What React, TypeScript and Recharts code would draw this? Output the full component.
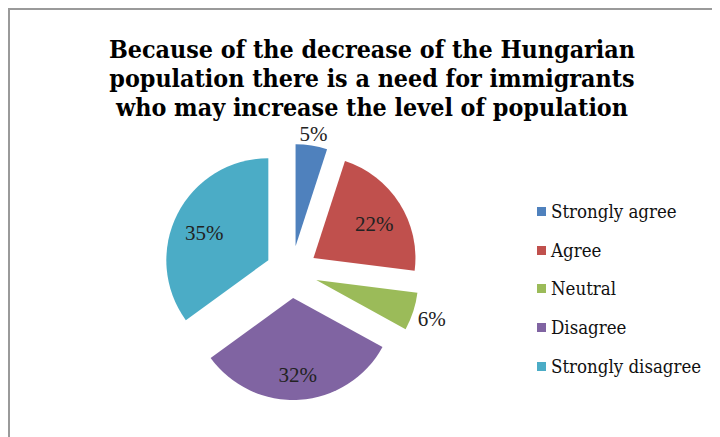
import { PieChart, Pie, Cell, Legend, Sector } from "recharts";

const categories = ["Strongly agree", "Agree", "Neutral", "Disagree", "Strongly disagree"];
const shares = [5, 22, 6, 32, 35];
const colors = ["#4F81BD", "#C0504D", "#9BBB59", "#8064A2", "#4BACC6"];

const titleLines = [
    "Because of the decrease of the Hungarian",
    "population there is a need for immigrants",
    "who may increase the level of population",
];

const data = categories.map((name, i) => ({ name, value: shares[i] }));

const RAD = Math.PI / 180;
const EXPLODE = 26;
const RADIUS = 102;
const SERIF = "'Liberation Serif', 'Times New Roman', serif";
const COND = "'DejaVu Serif Condensed', 'DejaVu Serif', serif";

// pulls each slice out along its own mid angle
const ExplodedSlice = (props: any) => {
    const { cx, cy, midAngle } = props;
    return (
        <Sector
            {...props}
            cx={cx + EXPLODE * Math.cos(-midAngle * RAD)}
            cy={cy + EXPLODE * Math.sin(-midAngle * RAD)}
            stroke="none"
        />
    );
};

// big slices get the label inside, small ones just outside the edge
const renderLabel = ({ cx, cy, midAngle, value }: any) => {
    const cos = Math.cos(-midAngle * RAD);
    const sin = Math.sin(-midAngle * RAD);
    const inside = value >= 10;
    const r = inside ? 98 : EXPLODE + RADIUS + 3 + Math.abs(cos) * 15 + Math.abs(sin) * 7;
    return (
        <text x={cx + r * cos} y={cy + r * sin + (inside ? 5 : 1)} fill="#222" fontSize={21} fontFamily={SERIF}
            textAnchor="middle" dominantBaseline="central">
            {`${value}%`}
        </text>
    );
};

const LegendContent = () => (
    <div style={{ fontFamily: COND, fontStretch: "condensed", fontSize: 18.5, color: "#111" }}>
        {categories.map((c, i) => (
            <div key={c} style={{ display: "flex", alignItems: "center", height: 38.8 }}>
                <span style={{ width: 9, height: 9, background: colors[i], marginRight: 5, display: "inline-block" }} />
                <span>{c}</span>
            </div>
        ))}
    </div>
);

export default function App() {
    return (
        <div style={{ position: "relative", width: 712, height: 429 }}>
            <div
                style={{
                    position: "absolute", left: 0, top: 0, width: 712, height: 429,
                    borderTop: "2px solid #9a9a9a", borderLeft: "2px solid #9a9a9a", boxSizing: "border-box",
                }}
            />
            <div
                style={{
                    position: "absolute", left: 0, top: 27, width: 728, textAlign: "center",
                    fontFamily: COND, fontStretch: "condensed", fontWeight: "bold", fontSize: 24.8,
                    lineHeight: "29px", color: "#000",
                }}
            >
                {titleLines.map(l => <div key={l}>{l}</div>)}
            </div>
            <PieChart width={712} height={429} margin={{ top: 0, right: 0, bottom: 0, left: 0 }}
                style={{ position: "absolute", left: 0, top: 0 }}>
                <Pie
                    data={data}
                    dataKey="value"
                    nameKey="name"
                    cx={283.5}
                    cy={264}
                    outerRadius={RADIUS}
                    startAngle={90}
                    endAngle={-270}
                    stroke="none"
                    shape={ExplodedSlice}
                    label={renderLabel}
                    labelLine={false}
                    isAnimationActive={false}
                >
                    {data.map((d, i) => <Cell key={d.name} fill={colors[i]} />)}
                </Pie>
                <Legend
                    layout="vertical"
                    content={<LegendContent />}
                    wrapperStyle={{ position: "absolute", left: 529, top: 184, width: 190 }}
                />
            </PieChart>
        </div>
    );
}
